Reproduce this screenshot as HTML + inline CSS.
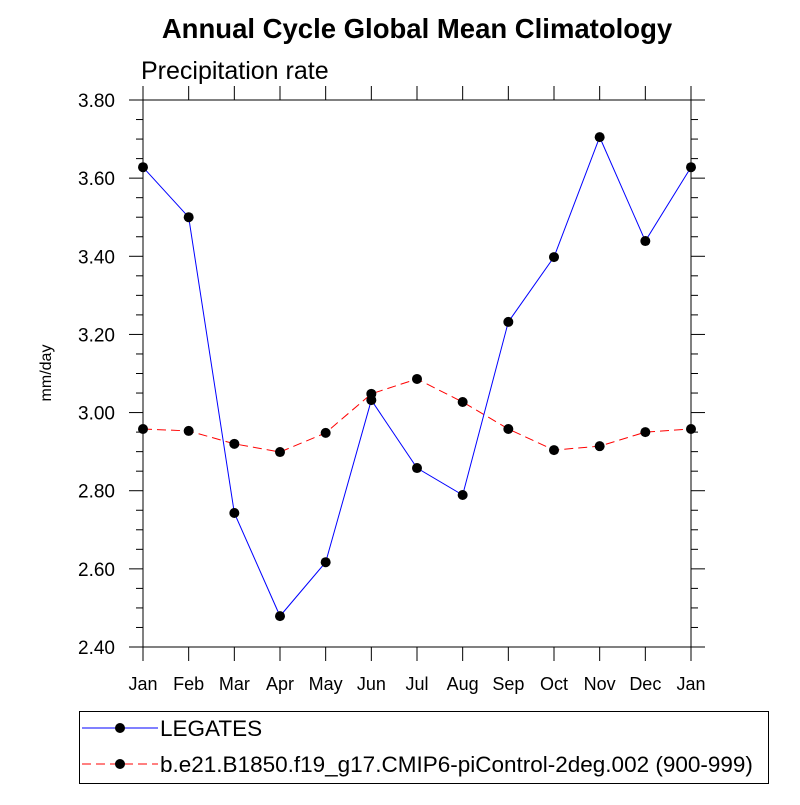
<!DOCTYPE html>
<html><head><meta charset="utf-8"><style>body{margin:0;background:#fff}</style></head>
<body>
<svg id="chart" width="800" height="800" xmlns="http://www.w3.org/2000/svg" font-family="Liberation Sans, sans-serif">
<rect width="800" height="800" fill="#fff"/>
<text x="417" y="38" text-anchor="middle" font-size="27.5" font-weight="bold">Annual Cycle Global Mean Climatology</text>
<text x="141" y="79" font-size="25">Precipitation rate</text>
<text transform="translate(51,373) rotate(-90)" text-anchor="middle" font-size="16">mm/day</text>
<g id="axes"></g>
<g id="series"></g>
<g>
<rect x="79.5" y="711.5" width="689" height="72" fill="none" stroke="#000" stroke-width="1"/>
<line x1="82" y1="728" x2="158" y2="728" stroke="#00f" stroke-width="1"/>
<circle cx="120" cy="728" r="5" fill="#000"/>
<text x="160" y="736" font-size="22.5">LEGATES</text>
<line x1="82" y1="764" x2="158" y2="764" stroke="#f00" stroke-width="1" stroke-dasharray="9,5"/>
<circle cx="120" cy="764" r="5" fill="#000"/>
<text x="160" y="772" font-size="22.5">b.e21.B1850.f19_g17.CMIP6-piControl-2deg.002 (900-999)</text>
</g>
</svg>
<script>
const months = ["Jan","Feb","Mar","Apr","May","Jun","Jul","Aug","Sep","Oct","Nov","Dec","Jan"];
const legates = [3.628,3.50,2.743,2.479,2.617,3.032,2.858,2.789,3.232,3.398,3.705,3.439,3.628];
const model = [2.958,2.953,2.920,2.899,2.948,3.048,3.086,3.027,2.958,2.904,2.914,2.950,2.958];
const yTicks = ["2.40","2.60","2.80","3.00","3.20","3.40","3.60","3.80"];
const L=143,R=691,T=100,B=647,yMin=2.4,yMax=3.8;
const xs=i=>L+i*(R-L)/(months.length-1);
const ys=v=>B-(v-yMin)/(yMax-yMin)*(B-T);
const NS="http://www.w3.org/2000/svg";
function mk(tag,attrs,parent){const e=document.createElementNS(NS,tag);for(const k in attrs)e.setAttribute(k,attrs[k]);parent.appendChild(e);return e;}
const ax=document.getElementById('axes');
const frame=mk('rect',{x:L,y:T,width:R-L,height:B-T,fill:'none',stroke:'#000','stroke-width':1},ax);


months.forEach((m,i)=>{
  const x=xs(i);
  mk('line',{x1:x,y1:B,x2:x,y2:B+14,stroke:'#000'},ax);
  mk('line',{x1:x,y1:T,x2:x,y2:T-14,stroke:'#000'},ax);
  const t=mk('text',{x:x,y:B+43,'text-anchor':'middle','font-size':18},ax);
  t.textContent=m;
  
  
});
for(let v=yMin;v<=yMax+1e-9;v+=0.05){
  const y=ys(v);const major=Math.abs(Math.round(v*5)-v*5)<1e-6;const len=major?14:7;
  mk('line',{x1:L-len,y1:y,x2:L,y2:y,stroke:'#000'},ax);
  mk('line',{x1:R,y1:y,x2:R+len,y2:y,stroke:'#000'},ax);
}
yTicks.forEach(s=>{
  const t=mk('text',{x:115,y:ys(parseFloat(s))+7,'text-anchor':'end','font-size':19},ax);
  t.textContent=s;
  
  
});
const sg=document.getElementById('series');
function drawSeries(vals,color,dash,name){
  const p=mk('polyline',{points:vals.map((v,i)=>xs(i)+','+ys(v)).join(' '),fill:'none',stroke:color,'stroke-width':1,'stroke-dasharray':dash},sg);
  
  
  vals.forEach((v,i)=>{
    const c=mk('circle',{cx:xs(i),cy:ys(v),r:5,fill:'#000'},sg);
    
    
  });
}
drawSeries(model,'#f00','9,5','model');
drawSeries(legates,'#00f','none','legates');
</script>
</body></html>
